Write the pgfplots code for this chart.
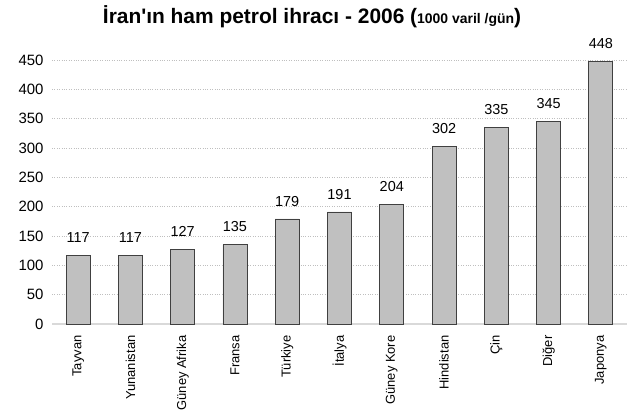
\documentclass[border=0pt]{standalone}
\usepackage{fontspec}
\setmainfont{Liberation Sans}
\usepackage{pgfplots}
\pgfplotsset{compat=1.18}
\definecolor{barfill}{HTML}{C0C0C0}
\definecolor{baredge}{HTML}{404040}
\definecolor{gridc}{HTML}{BFBFBF}
\definecolor{axisc}{HTML}{D9D9D9}
\begin{document}
\begin{tikzpicture}[x=1bp,y=1bp]
\path[use as bounding box] (0,0) rectangle (633,413);
\node[anchor=center] at (312,396) {\fontsize{21}{24}\selectfont\bfseries İran\textquotesingle ın ham petrol ihracı - 2006 ({\fontsize{14}{16}\selectfont 1000 varil /gün})};
\begin{axis}[
  at={(52bp,89bp)}, anchor=south west,
  scale only axis, width=575bp, height=264bp,
  xmin=-0.5, xmax=10.5, ymin=0, ymax=450,
  ytick={0,50,...,450},
  xtick={0,...,10},
  xticklabels={Tayvan,Yunanistan,Güney Afrika,Fransa,Türkiye,İtalya,Güney Kore,Hindistan,Çin,Diğer,Japonya},
  x tick label style={rotate=90, anchor=east, font=\fontsize{13}{15}\selectfont, xshift=-8bp},
  y tick label style={font=\fontsize{15}{17}\selectfont, xshift=-5bp},
  /pgf/number format/assume math mode=true,
  axis x line*=bottom, axis y line*=left,
  x axis line style={draw=axisc, line width=1.6pt, -},
  y axis line style={draw=none},
  ymajorgrids, grid style={gridc, dotted, line width=0.4pt},
  major tick length=0pt,
  ytick style={draw=none}, xtick style={draw=none},
  clip=false,
  nodes near coords,
  every node near coord/.append style={font=\fontsize{14.5}{16}\selectfont, yshift=9bp},
  point meta=explicit symbolic,
]
\addplot[ybar, bar width=24bp, fill=barfill, draw=baredge, line width=0.9pt] coordinates {
 (0,117) [117] (1,117) [117] (2,127) [127] (3,135) [135] (4,179) [179] (5,191) [191]
 (6,204) [204] (7,302) [302] (8,335) [335] (9,345) [345] (10,448) [448]
};
\end{axis}
\end{tikzpicture}
\end{document}
